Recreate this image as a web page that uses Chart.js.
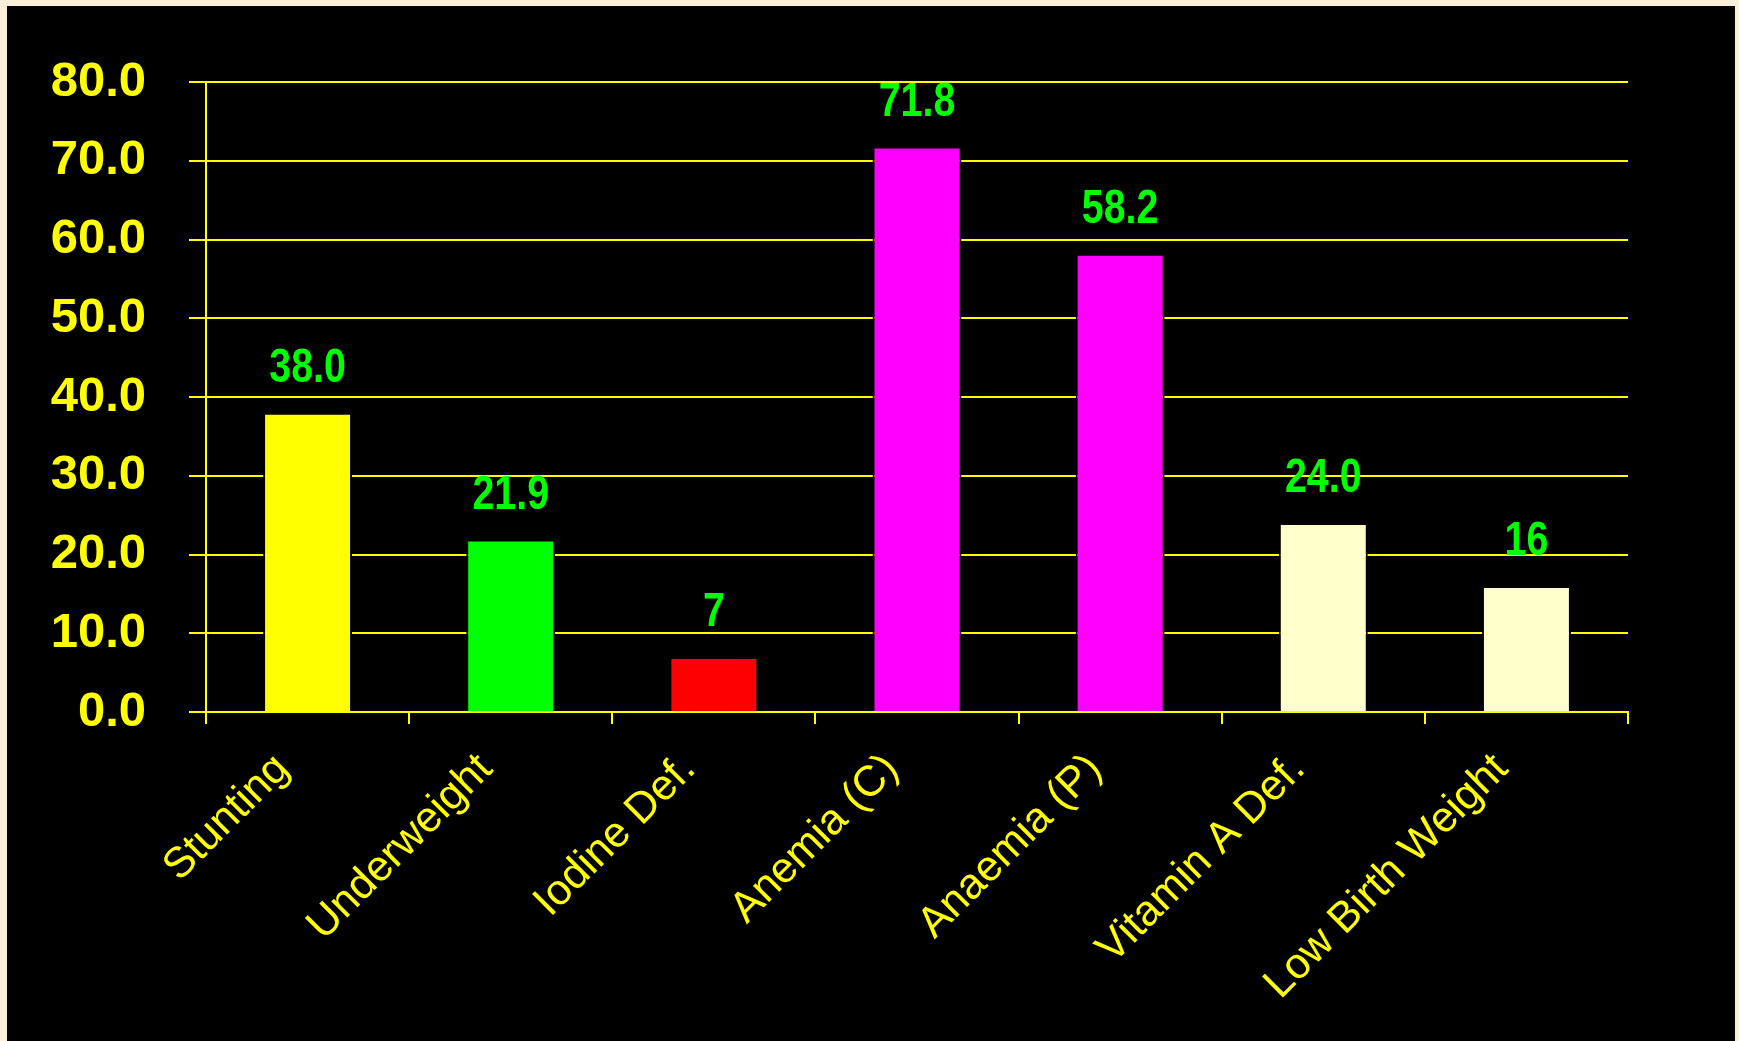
<!DOCTYPE html>
<html>
<head>
<meta charset="utf-8">
<script src="https://cdn.jsdelivr.net/npm/chart.js@4/dist/chart.umd.min.js"></script>
<style>
  html, body { margin: 0; padding: 0; }
  body { width: 1739px; height: 1041px; background: #fcf0db; position: relative; overflow: hidden; }
  .panel { position: absolute; left: 7px; top: 6px; width: 1728px; height: 1035px; background: #000; }
  canvas { display: block; }
</style>
</head>
<body>
<div class="panel">
  <canvas id="myChart" width="1728" height="1035"></canvas>
</div>
<script>
const categories = ['Stunting', 'Underweight', 'Iodine Def.', 'Anemia (C)', 'Anaemia (P)', 'Vitamin A Def.', 'Low Birth Weight'];
const values = [38.0, 21.9, 7, 71.8, 58.2, 24.0, 16];
const valueLabels = ['38.0', '21.9', '7', '71.8', '58.2', '24.0', '16'];
const barColors = ['#ffff00', '#00ff00', '#ff0000', '#ff00ff', '#ff00ff', '#ffffcc', '#ffffcc'];

const YELLOW = '#ffff00';

// green numbers above each bar (narrow bold look: squeeze Liberation Sans bold)
const valueLabelPlugin = {
    id: 'valueLabels',
    afterDatasetsDraw(chart) {
        const ctx = chart.ctx;
        const meta = chart.getDatasetMeta(0);
        const squeeze = 0.82;
        ctx.save();
        ctx.fillStyle = '#00ff00';
        ctx.font = "bold 48px 'Liberation Sans', Arial, sans-serif";
        ctx.textAlign = 'center';
        ctx.textBaseline = 'alphabetic';
        meta.data.forEach((bar, i) => {
            ctx.save();
            ctx.translate(bar.x, bar.y - 31);
            ctx.scale(squeeze, 1);
            ctx.fillText(valueLabels[i], 0, 0);
            ctx.restore();
        });
        ctx.restore();
    }
};

const ctx = document.getElementById('myChart').getContext('2d');
new Chart(ctx, {
    type: 'bar',
    data: {
        labels: categories,
        datasets: [{
            data: values,
            backgroundColor: barColors,
            borderColor: '#000000',
            borderWidth: 2,
            categoryPercentage: 1,
            barPercentage: 0.438
        }]
    },
    options: {
        responsive: false,
        animation: false,
        layout: { padding: { left: 0, right: 107, top: 76, bottom: 0 } },
        plugins: {
            legend: { display: false },
            tooltip: { enabled: false }
        },
        scales: {
            x: {
                z: 1,
                grid: {
                    offset: true,
                    drawOnChartArea: false,
                    color: YELLOW,
                    lineWidth: 2,
                    tickLength: 12
                },
                border: { display: true, color: YELLOW, width: 2 },
                ticks: {
                    color: YELLOW,
                    font: { family: "'Liberation Sans', Arial, sans-serif", size: 43 },
                    minRotation: 45,
                    maxRotation: 45,
                    padding: 20,
                    labelOffset: -25
                },
                afterFit: s => { s.height = 329; }
            },
            y: {
                min: 0,
                max: 80,
                grid: {
                    color: YELLOW,
                    lineWidth: 2,
                    tickLength: 17
                },
                border: { display: true, color: YELLOW, width: 2 },
                ticks: {
                    stepSize: 10,
                    color: YELLOW,
                    padding: 43,
                    font: { family: "'Liberation Sans', Arial, sans-serif", size: 49, weight: 'bold' },
                    callback: v => v.toFixed(1)
                },
                afterFit: s => { s.width = 199; }
            }
        }
    },
    plugins: [valueLabelPlugin]
});
</script>
</body>
</html>
